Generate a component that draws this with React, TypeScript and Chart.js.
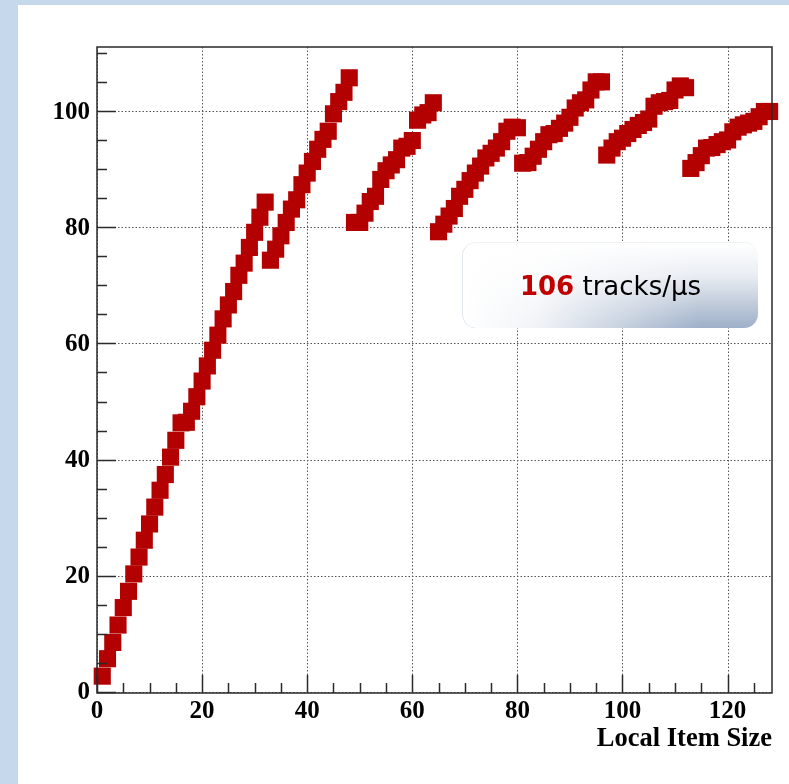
import React, { useEffect, useRef } from "react";
import { Chart, registerables } from "chart.js";

Chart.register(...registerables);

// ---- data ----
const localItemSize = [
  1, 2, 3, 4, 5, 6, 7, 8, 9, 10, 11, 12, 13, 14, 15, 16,
  17, 18, 19, 20, 21, 22, 23, 24, 25, 26, 27, 28, 29, 30, 31, 32,
  33, 34, 35, 36, 37, 38, 39, 40, 41, 42, 43, 44, 45, 46, 47, 48,
  49, 50, 51, 52, 53, 54, 55, 56, 57, 58, 59, 60, 61, 62, 63, 64,
  65, 66, 67, 68, 69, 70, 71, 72, 73, 74, 75, 76, 77, 78, 79, 80,
  81, 82, 83, 84, 85, 86, 87, 88, 89, 90, 91, 92, 93, 94, 95, 96,
  97, 98, 99, 100, 101, 102, 103, 104, 105, 106, 107, 108, 109, 110, 111, 112,
  113, 114, 115, 116, 117, 118, 119, 120, 121, 122, 123, 124, 125, 126, 127, 128,
];

const tracksPerMicrosecond = [
  2.9, 5.9, 8.7, 11.7, 14.7, 17.5, 20.5, 23.4, 26.3, 29.1, 32.0, 34.9, 37.6, 40.6, 43.5, 46.5,
  46.6, 48.5, 51.0, 53.7, 56.3, 59.0, 61.6, 64.4, 66.8, 69.1, 71.9, 74.0, 76.7, 79.3, 81.9, 84.5,
  74.5, 76.4, 78.7, 81.0, 83.3, 84.9, 87.5, 89.5, 91.5, 93.6, 95.3, 96.7, 99.7, 101.8, 103.4, 105.9,
  81.0, 81.0, 82.6, 84.6, 85.5, 88.4, 89.9, 90.9, 91.8, 93.8, 94.1, 95.1, 98.6, 99.5, 99.9, 101.6,
  79.4, 80.7, 82.1, 83.4, 85.5, 86.7, 88.2, 89.5, 90.7, 92.1, 92.9, 93.8, 94.9, 96.7, 97.4, 97.3,
  91.2, 91.3, 92.4, 93.6, 94.9, 96.1, 96.3, 97.2, 98.1, 99.1, 100.7, 101.6, 102.1, 103.8, 105.2, 105.2,
  92.6, 93.8, 94.9, 95.5, 96.3, 97.0, 97.7, 98.2, 98.8, 101.0, 101.6, 101.8, 102.0, 103.8, 104.5, 104.2,
  90.3, 91.3, 92.5, 93.8, 93.9, 94.4, 94.9, 95.2, 96.6, 97.4, 97.8, 98.1, 98.4, 99.2, 100.1, 100.1,
];

const xTickValues = [0, 20, 40, 60, 80, 100, 120];
const yTickValues = [0, 20, 40, 60, 80, 100];
const xMinorStep = 5;
const yMinorStep = 5;
const xAxisTitle = "Local Item Size";
const peakValue = "106";
const peakUnit = "tracks/µs";

const X_MIN = 0;
const X_MAX = 128.45;
const Y_MIN = 0;
const Y_MAX = 111.2;

const W = 789;
const H = 784;

const rootAxesPlugin = {
  id: "rootAxes",
  beforeDatasetsDraw(chart: any) {
    const { ctx, chartArea: a, scales } = chart;
    const x = scales.x;
    const y = scales.y;
    ctx.save();
    ctx.strokeStyle = "#555555";
    ctx.lineWidth = 1;
    ctx.setLineDash([1.5, 2]);
    for (const v of xTickValues) {
      const px = Math.round(x.getPixelForValue(v)) + 0.5;
      ctx.beginPath();
      ctx.moveTo(px, a.top);
      ctx.lineTo(px, a.bottom);
      ctx.stroke();
    }
    for (const v of yTickValues) {
      const py = Math.round(y.getPixelForValue(v)) - 0.5;
      ctx.beginPath();
      ctx.moveTo(a.left, py);
      ctx.lineTo(a.right, py);
      ctx.stroke();
    }
    ctx.restore();
  },
  afterDatasetsDraw(chart: any) {
    const { ctx, chartArea: a, scales } = chart;
    const x = scales.x;
    const y = scales.y;
    ctx.save();
    ctx.setLineDash([]);
    ctx.strokeStyle = "#2a2a2a";
    ctx.lineWidth = 1.5;
    ctx.strokeRect(a.left, a.top, a.right - a.left, a.bottom - a.top);
    ctx.beginPath();
    for (let v = X_MIN; v <= X_MAX; v += xMinorStep) {
      const px = Math.round(x.getPixelForValue(v)) + 0.5;
      const major = xTickValues.includes(v);
      ctx.moveTo(px, a.bottom);
      ctx.lineTo(px, a.bottom - (major ? 18 : 10));
    }
    for (let v = Y_MIN; v <= Y_MAX; v += yMinorStep) {
      const py = Math.round(y.getPixelForValue(v)) - 0.5;
      const major = yTickValues.includes(v);
      ctx.moveTo(a.left, py);
      ctx.lineTo(a.left + (major ? 19 : 10), py);
    }
    ctx.stroke();
    ctx.restore();
  },
};

const serif = '"Liberation Serif", "Times New Roman", serif';
const tickFont = { family: serif, size: 25, weight: "bold" as const };

export default function App() {
  const canvasRef = useRef<HTMLCanvasElement | null>(null);

  useEffect(() => {
    const canvas = canvasRef.current;
    if (!canvas) return;
    const points = localItemSize.map((xv, i) => ({ x: xv, y: tracksPerMicrosecond[i] }));
    const chart = new Chart(canvas, {
      type: "scatter",
      data: {
        datasets: [
          {
            data: points,
            pointStyle: "rect",
            pointRadius: 12.1,
            pointHoverRadius: 12.1,
            pointBorderWidth: 0,
            backgroundColor: "#b30000",
            borderColor: "#b30000",
            showLine: false,
            clip: false as any,
          },
        ],
      },
      options: {
        animation: false,
        responsive: false,
        devicePixelRatio: 1,
        events: [],
        layout: { padding: { top: 47, right: 17, left: 0, bottom: 0 } },
        plugins: {
          legend: { display: false },
          tooltip: { enabled: false },
        },
        scales: {
          x: {
            type: "linear",
            min: X_MIN,
            max: X_MAX,
            afterBuildTicks: (s: any) => {
              s.ticks = xTickValues.map((v) => ({ value: v }));
            },
            grid: { display: false, drawTicks: false },
            border: { display: false },
            ticks: {
              font: tickFont,
              color: "#000",
              padding: 4,
              maxRotation: 0,
              autoSkip: false,
              callback: (v: any) => String(v),
            },
            title: {
              display: true,
              text: xAxisTitle,
              align: "end",
              color: "#000",
              font: { family: serif, size: 26.5, weight: "bold" },
              padding: { top: 0, bottom: 29 },
            },
            afterFit: (s: any) => {
              s.height = 91;
            },
          },
          y: {
            type: "linear",
            min: Y_MIN,
            max: Y_MAX,
            afterBuildTicks: (s: any) => {
              s.ticks = yTickValues.map((v) => ({ value: v }));
            },
            grid: { display: false, drawTicks: false },
            border: { display: false },
            ticks: {
              font: tickFont,
              color: "#000",
              padding: 7,
              autoSkip: false,
              callback: (v: any) => String(v),
            },
            afterFit: (s: any) => {
              s.width = 97;
            },
          },
        },
      },
      plugins: [rootAxesPlugin],
    } as any);
    return () => chart.destroy();
  }, []);

  return (
    <div
      style={{
        position: "absolute",
        left: 0,
        top: 0,
        width: W,
        height: H,
        background: "#c6d9ec",
        overflow: "hidden",
      }}
    >
      <div style={{ position: "absolute", left: 18, top: 5, right: 0, bottom: 0, background: "#ffffff" }} />
      <canvas
        ref={canvasRef}
        width={W}
        height={H}
        style={{ position: "absolute", left: 0, top: 0, width: W, height: H }}
      />
      <div
        style={{
          position: "absolute",
          left: 462,
          top: 242,
          width: 296,
          height: 86,
          borderRadius: 14,
          boxSizing: "border-box",
          borderLeft: "1px solid #e3e8ef",
          borderTop: "1px solid #f0f2f6",
          background:
            "linear-gradient(to right, rgba(255,255,255,1) 0%, rgba(255,255,255,0.85) 25%, rgba(255,255,255,0) 80%), linear-gradient(to bottom, #ffffff 0%, #e8ecf2 40%, #c2cddc 70%, #9eb0c9 100%)",
          display: "flex",
          alignItems: "center",
          justifyContent: "center",
          fontFamily: '"DejaVu Sans", Verdana, sans-serif',
          fontSize: 26,
          color: "#000",
          whiteSpace: "nowrap",
        }}
      >
        <span style={{ color: "#c00000", fontWeight: "bold" }}>{peakValue}</span>
        <span>&nbsp;{peakUnit}</span>
      </div>
    </div>
  );
}
